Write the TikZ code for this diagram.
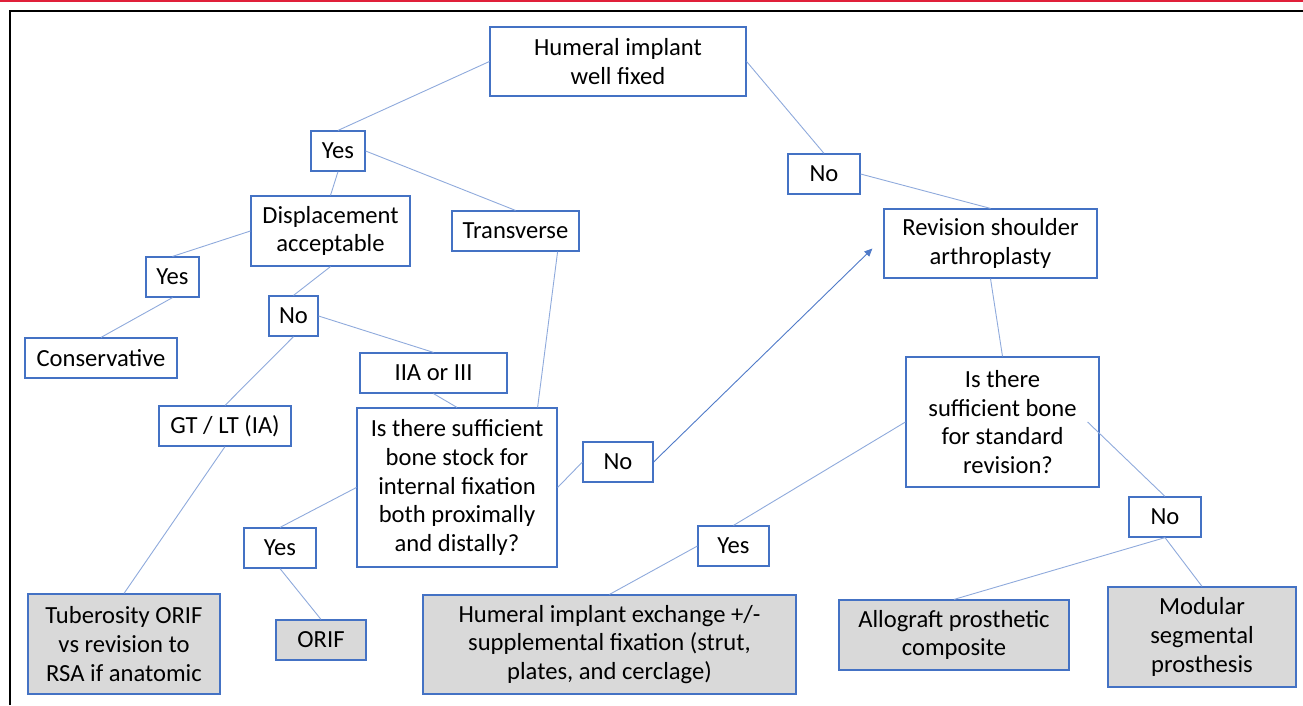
\documentclass[tikz,border=0pt]{standalone}
\usepackage{fontspec}
\setmainfont{Carlito}
\usetikzlibrary{arrows.meta}
\definecolor{boxblue}{HTML}{4472C4}
\definecolor{linkblue}{HTML}{8FAADC}
\definecolor{leafgray}{HTML}{D9D9D9}
\definecolor{topred}{HTML}{E0203A}
\tikzset{
  box/.style={draw=boxblue, line width=1.2pt, fill=white, rectangle, inner sep=0pt,
    align=center, font=\fontsize{24.6pt}{28.8pt}\selectfont},
  leaf/.style={box, fill=leafgray},
  link/.style={draw=linkblue, line width=0.9pt},
}
\begin{document}
\begin{tikzpicture}[x=1pt,y=-1pt]
\useasboundingbox (0,0) rectangle (1303,705);
\draw[topred, line width=1.6pt] (0,0.8) -- (1303,0.8);
\draw[black, line width=2pt] (9.5,705) -- (9.5,10.5) -- (1303,10.5);

\node[box, minimum width=256pt, minimum height=69pt] (hum) at (618,61.5) {Humeral implant\\well fixed};
\node[box, minimum width=54pt, minimum height=40pt] (yes1) at (338,151) {Yes};
\node[box, minimum width=72pt, minimum height=40pt] (no1) at (824,174) {No};
\node[box, minimum width=159pt, minimum height=70pt] (disp) at (330.5,231) {Displacement\\acceptable};
\node[box, minimum width=127pt, minimum height=40pt] (trans) at (515.5,231) {Transverse};
\node[box, minimum width=213pt, minimum height=69pt] (rev) at (990.5,243.5) {Revision shoulder\\arthroplasty};
\node[box, minimum width=53pt, minimum height=40pt] (yes2) at (172.5,277) {Yes};
\node[box, minimum width=49pt, minimum height=40pt] (no2) at (293.5,316) {No};
\node[box, minimum width=152pt, minimum height=40pt] (cons) at (101,358) {Conservative};
\node[box, minimum width=147pt, minimum height=40pt] (iia) at (433.5,373) {IIA or III};
\node[box, minimum width=132pt, minimum height=40pt] (gt) at (225,426) {GT / LT (IA)};
\node[box, minimum width=200pt, minimum height=159pt] (stock) at (457,487.5) {Is there sufficient\\bone stock for\\internal fixation\\both proximally\\and distally?};
\node[box, minimum width=70pt, minimum height=40pt] (no3) at (618,462) {No};
\node[box, minimum width=193pt, minimum height=130pt] (q) at (1002.5,422) {Is there\\sufficient bone\\for standard\\\hspace*{11pt}revision?};
\node[box, minimum width=72pt, minimum height=40pt] (yes3) at (280,548) {Yes};
\node[box, minimum width=71pt, minimum height=40pt] (yes4) at (733.5,546) {Yes};
\node[box, minimum width=72pt, minimum height=40pt] (no4) at (1165,517) {No};
\node[leaf, minimum width=192pt, minimum height=100pt] (tub) at (124,644) {Tuberosity ORIF\\vs revision to\\RSA if anatomic};
\node[leaf, minimum width=90pt, minimum height=40pt] (orif) at (321,640) {ORIF};
\node[leaf, minimum width=373pt, minimum height=99pt] (exch) at (609.5,644.5) {Humeral implant exchange +/-\\supplemental fixation (strut,\\plates, and cerclage)};
\node[leaf, minimum width=230pt, minimum height=70pt] (allo) at (954,635) {Allograft prosthetic\\composite};
\node[leaf, minimum width=188pt, minimum height=100pt] (mod) at (1202,637) {Modular\\segmental\\prosthesis};

\coordinate (revin) at ([shift={(-11,5)}]rev.west);
\coordinate (qin) at ([xshift=-12pt]q.east);

\draw[link] (hum.west) -- (yes1.north);
\draw[link] (hum.east) -- (no1.north);
\draw[link] (no1.east) -- (rev.north);
\draw[link] (yes1.east) -- (trans.north);
\draw[link] (yes1.south) -- (disp.north);
\draw[link] (disp.west) -- (yes2.north);
\draw[link] (yes2.south) -- (cons.north);
\draw[link] (disp.south) -- (no2.north);
\draw[link] (no2.east) -- (iia.north);
\draw[link] (no2.south) -- (gt.north);
\draw[link] (gt.south) -- (tub.north);
\draw[link] (iia.south) -- (stock.north);
\draw[link] ([xshift=-22pt]trans.south east) -- ([xshift=-20pt]stock.north east);
\draw[link] (stock.west) -- (yes3.north);
\draw[link] (yes3.south) -- (orif.north);
\draw[link] (stock.east) -- (no3.west);
\draw[link, -{Triangle[length=8pt,width=7pt]}, boxblue!85!linkblue] (no3.east) -- (revin);
\draw[link] (rev.south) -- (q.north);
\draw[link] (q.west) -- (yes4.north);
\draw[link] (qin) -- (no4.north);
\draw[link] (yes4.west) -- (exch.north);
\draw[link] (no4.south) -- (allo.north);
\draw[link] (no4.south) -- (mod.north);
\end{tikzpicture}
\end{document}
